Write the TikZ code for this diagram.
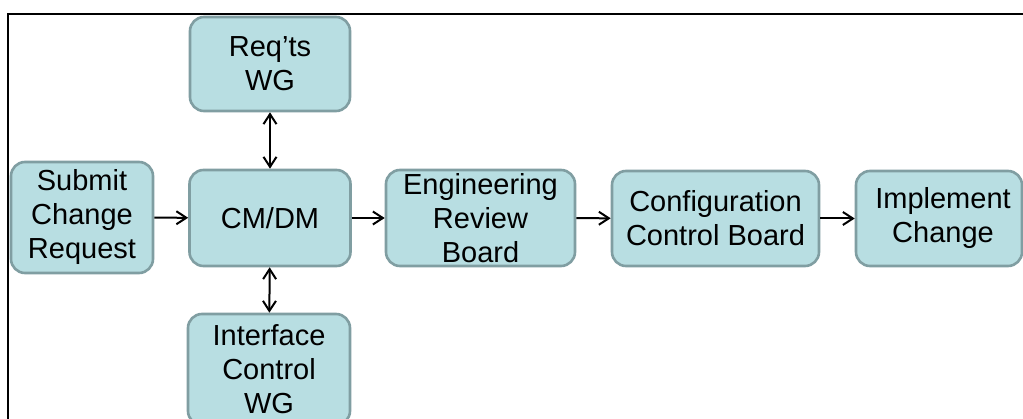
\documentclass[tikz,border=0pt]{standalone}
\usepackage{fontspec}
\setmainfont{Liberation Sans}
\usetikzlibrary{arrows.meta}
\definecolor{boxfill}{RGB}{184,222,226}
\definecolor{boxline}{RGB}{128,158,162}
\tikzset{
  procbox/.style={draw=boxline, fill=boxfill, line width=2.6pt, rounded corners=14pt,
    inner sep=0pt, align=center, font=\fontsize{29}{34}\selectfont},
  barb/.tip={Straight Barb[length=10pt,width=13pt,line width=2pt]},
  arr/.style={line width=2pt, -barb},
  darr/.style={line width=2pt, barb-barb}
}
\begin{document}
\begin{tikzpicture}[x=1pt,y=-1pt]
\useasboundingbox (0,0) rectangle (1023,419);
\clip (0,0) rectangle (1023,419);
\fill[white] (0,0) rectangle (1023,419);
\draw[line width=2.6pt] (8,430) -- (8,14) -- (1030,14);
\node[procbox, minimum width=142pt, minimum height=111pt] (sub) at (82,217.5) {Submit\\Change\\Request};
\node[procbox, minimum width=161pt, minimum height=96pt] (cm) at (270,218) {CM/DM};
\node[procbox, minimum width=160pt, minimum height=94pt] (req) at (270,64) {Req’ts\\WG};
\node[procbox, minimum width=162pt, minimum height=111pt] (icw) at (269,369.5) {Interface\\Control\\WG};
\node[procbox, minimum width=189pt, minimum height=96pt] (erb) at (480.5,218) {Engineering\\Review\\Board};
\node[procbox, minimum width=207pt, minimum height=95pt] (ccb) at (715.5,218.5) {Configuration\\Control Board};
\node[procbox, minimum width=166pt, minimum height=95pt] (imp) at (939,218.5) {\hspace*{8pt}Implement\\\hspace*{8pt}Change};
\draw[arr] (sub) -- (cm);
\draw[arr] (cm) -- (erb);
\draw[arr] (erb) -- (ccb);
\draw[arr] (ccb) -- (imp);
\draw[darr] (req) -- (cm);
\draw[darr] (cm) -- (icw);
\end{tikzpicture}
\end{document}
